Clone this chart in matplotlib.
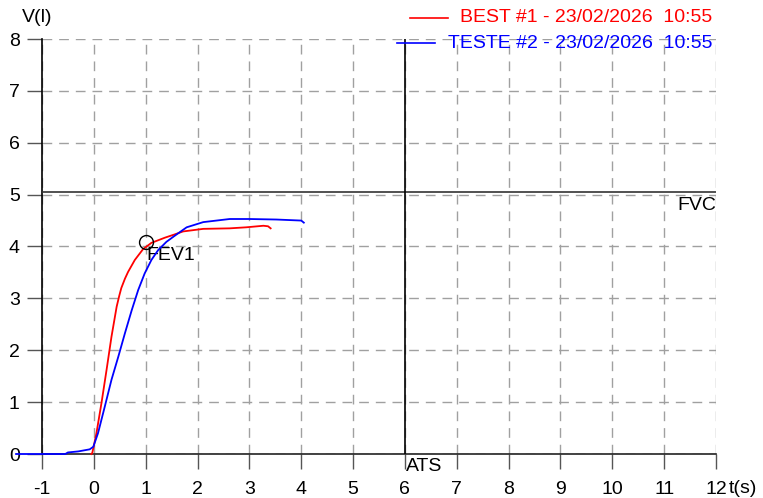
import matplotlib
matplotlib.use("Agg")
import matplotlib.pyplot as plt
from matplotlib.lines import Line2D

plt.rcParams['font.family'] = ['Liberation Sans', 'DejaVu Sans']

# Data
best_t = [-0.05, -0.03, 0.05, 0.15, 0.245, 0.34, 0.44, 0.49, 0.53, 0.60, 0.66, 0.79, 0.95, 1.11,
          1.37, 1.55, 1.72, 2.11, 2.62, 2.94, 3.27, 3.36, 3.41]
best_v = [0.0, 0.02, 0.40, 1.0, 1.62, 2.26, 2.84, 3.05, 3.20, 3.38, 3.51, 3.74, 3.95, 4.07,
          4.17, 4.23, 4.29, 4.34, 4.35, 4.37, 4.40, 4.39, 4.35]
test_t = [-1.5, -0.55, -0.5, -0.3, -0.08, -0.01, 0.08, 0.21, 0.34, 0.47, 0.60, 0.73,
          0.855, 0.98, 1.11, 1.24, 1.40, 1.55, 1.79, 2.11, 2.62, 3.0, 3.52, 4.0, 4.05]
test_v = [0.0, 0.0, 0.03, 0.05, 0.09, 0.14, 0.40, 0.91, 1.43, 1.87, 2.33, 2.77,
          3.16, 3.48, 3.74, 3.93, 4.09, 4.20, 4.37, 4.47, 4.53, 4.53, 4.52, 4.50, 4.46]
fvc_value = 5.06
fev1_point = (1.0, 4.08)
ats_time = 6
x_ticks = list(range(-1, 13))
y_ticks = list(range(0, 9))
legend_labels = ["BEST #1 - 23/02/2026  10:55", "TESTE #2 - 23/02/2026  10:55"]

W, H = 763, 498
fig = plt.figure(figsize=(W / 100, H / 100), dpi=100)
ax = fig.add_axes([42 / W, (H - 454) / H, 674 / W, 415 / H])
ax.set_xlim(-1, 12)
ax.set_ylim(0, 8)

for s in ['top', 'right']:
    ax.spines[s].set_visible(False)
ax.spines['left'].set_color('black')
ax.spines['bottom'].set_color('#222222')
ax.spines['left'].set_linewidth(1.2)
ax.spines['bottom'].set_linewidth(1.2)

ax.set_xticks(x_ticks)
ax.set_xticklabels([str(v) for v in x_ticks])
ax.set_yticks(y_ticks)
ax.set_yticklabels([str(v) for v in y_ticks])
ax.tick_params(direction='out', length=11, width=1, colors='#555555', labelsize=14,
               labelcolor='black')
ax.tick_params(axis='x', pad=8.5)
ax.tick_params(axis='y', pad=5)
ax.grid(True, color='#a0a0a0', linestyle=(0, (7, 5)), linewidth=1)

# FVC line
ax.plot([-1, 12], [fvc_value, fvc_value], color='#333333', lw=1.2, zorder=3)
ax.text(12, fvc_value - 0.1, "FVC", ha='right', va='top', fontsize=14)

# ATS vertical line
ax.plot([ats_time, ats_time], [0, 8], color='black', lw=1.2, zorder=3)
ax.text(ats_time + 0.02, -0.07, "ATS", ha='left', va='top', fontsize=14, clip_on=False)

# curves
ax.plot(best_t, best_v, color='#ff0000', lw=1.3, zorder=4, clip_on=False)
ax.plot(test_t, test_v, color='#0000ff', lw=1.3, zorder=4, clip_on=False)

# FEV1 marker
ax.plot([fev1_point[0]], [fev1_point[1]], marker='o', ms=10, mfc='none', mec='black',
        mew=1, zorder=5)
ax.text(fev1_point[0] + 0.01, fev1_point[1] - 0.08, "FEV1", ha='left', va='top', fontsize=14)

# axis labels
fig.text(22 / W, 1 - 18 / H, "V(l)", ha='left', va='center', fontsize=14)
fig.text(729 / W, 1 - 488 / H, "t(s)", ha='left', va='center', fontsize=14)

# legend
fig.add_artist(Line2D([410 / W, 448 / W], [1 - 18 / H, 1 - 18 / H], color='#ff0000', lw=1.2))
fig.text(712 / W, 1 - 18 / H, legend_labels[0], ha='right', va='center', fontsize=14, color='#ff0000')
fig.add_artist(Line2D([397 / W, 435 / W], [1 - 43 / H, 1 - 43 / H], color='#0000ff', lw=1.2))
fig.text(712 / W, 1 - 43 / H, legend_labels[1], ha='right', va='center', fontsize=14, color='#0000ff')

fig.savefig("out.png", dpi=100)
